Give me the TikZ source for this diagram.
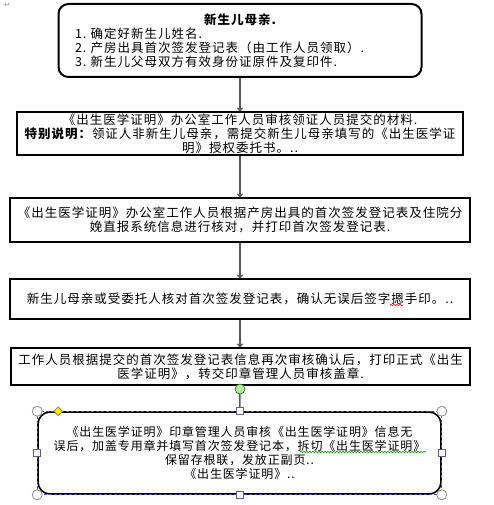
\documentclass[tikz,border=0pt]{standalone}
\usepackage{fontspec}
\setmainfont{Noto Sans CJK SC}
\newfontfamily\symfont{DejaVu Sans}
\usetikzlibrary{positioning}
\usetikzlibrary{arrows.meta}
\usetikzlibrary{shapes.geometric}
\usetikzlibrary{decorations.pathmorphing}

\tikzset{
  stepbox/.style={draw, line width=1.2pt, align=center, inner sep=0pt,
    font=\fontsize{12.5}{14}\selectfont\addfontfeature{LetterSpace=8}},
  flow/.style={draw=black!65, line width=1.3pt, -{To[length=4pt,width=6pt]}},
  cornerhandle/.style={circle, draw=black!45, fill=white, line width=0.8pt,
    minimum size=10pt, inner sep=0pt},
  sidehandle/.style={rectangle, draw=blue!30!gray, fill=white, line width=0.8pt,
    minimum size=7pt, inner sep=0pt},
  adjhandle/.style={diamond, draw=black!55, fill=yellow!90!orange, line width=0.6pt,
    minimum size=9pt, inner sep=0pt},
  rothandle/.style={circle, draw=green!45!black, fill=green!55!lime!80!black!40!white,
    line width=0.6pt, minimum size=10pt, inner sep=0pt},
  selframe/.style={draw=blue!45!gray, line width=0.8pt},
  typo/.style={decorate, decoration={snake, amplitude=0.8pt, segment length=3pt},
    line width=0.6pt}
}

\begin{document}
\begin{tikzpicture}[x=1pt,y=-1pt]
\useasboundingbox (0,0) rectangle (493,505);

\node[font=\symfont\fontsize{7}{7}\selectfont, text=black!50] (ret) at (7,5) {↵};

% steps
\node[stepbox, rounded corners=10pt, line width=2pt, align=left,
  text width=330pt, inner xsep=16.5pt, minimum height=73pt] (mother) at (240,40.5)
  {{\centering\bfseries 新生儿母亲.\par}
   1.\ 确定好新生儿姓名.\\
   2.\ 产房出具首次签发登记表（由工作人员领取）.\\
   3.\ 新生儿父母双方有效身份证原件及复印件.};

\node[stepbox, minimum width=446pt, minimum height=43pt] (check) at (240,133.5)
  {《出生医学证明》办公室工作人员审核领证人员提交的材料.\\
   \textbf{特别说明：}领证人非新生儿母亲，需提交新生儿母亲填写的《出生医学证\\
   明》授权委托书。..};

\node[stepbox, minimum width=460pt, minimum height=44pt] (verify) at (240,220)
  {《出生医学证明》办公室工作人员根据产房出具的首次签发登记表及住院分\\
   娩直报系统信息进行核对，并打印首次签发登记表.};

\node[stepbox, minimum width=460pt, minimum height=40pt] (sign) at (240,299)
  {新生儿母亲或受委托人核对首次签发登记表，确认无误后签字摁手印。..};

\node[stepbox, minimum width=459pt, minimum height=37pt] (print) at (240.5,366.5)
  {工作人员根据提交的首次签发登记表信息再次审核确认后，打印正式《出生\\
   医学证明》，转交印章管理人员审核盖章.};

\node[stepbox, rounded corners=12pt, line width=1.6pt, minimum width=403pt,
  minimum height=82pt, font=\fontsize{12}{14}\selectfont\addfontfeature{LetterSpace=7}]
  (seal) at (239.5,453)
  {《出生医学证明》印章管理人员审核《出生医学证明》信息无\\
   误后，加盖专用章并填写首次签发登记本，拆切《出生医学证明》\\
   保留存根联，发放正副页..\\
   《出生医学证明》..};

% connectors
\draw[flow] (mother.south -| check.north) -- (check.north);
\draw[flow] (check.south) -- (verify.north);
\draw[flow] (verify.south) -- (sign.north);
\draw[flow] (sign.south) -- (sign.south |- print.north);
\draw[flow] (print.south -| seal.north) -- (seal.north);

% spelling marks
\draw[typo, red] (390,305) -- (403,305);
\draw[typo, green!60!black] (300,452) -- (426,452);

% selection of the last step
\draw[selframe, dashed, dash pattern=on 3pt off 2pt] (seal.north west) rectangle (seal.south east);
\node[rothandle] (rot) at (240,389) {};
\draw[black!40, line width=0.8pt] (rot) -- (seal.north -| rot);
\foreach \a/\n in {north west/nw, north east/ne, south west/sw, south east/se}
  \node[cornerhandle] (h\n) at (seal.\a) {};
\foreach \a/\n in {north/n, south/s, west/w, east/e}
  \node[sidehandle] (h\n) at (seal.\a) {};
\node[adjhandle] (adj) at ([xshift=21pt]seal.north west) {};
\end{tikzpicture}
\end{document}
